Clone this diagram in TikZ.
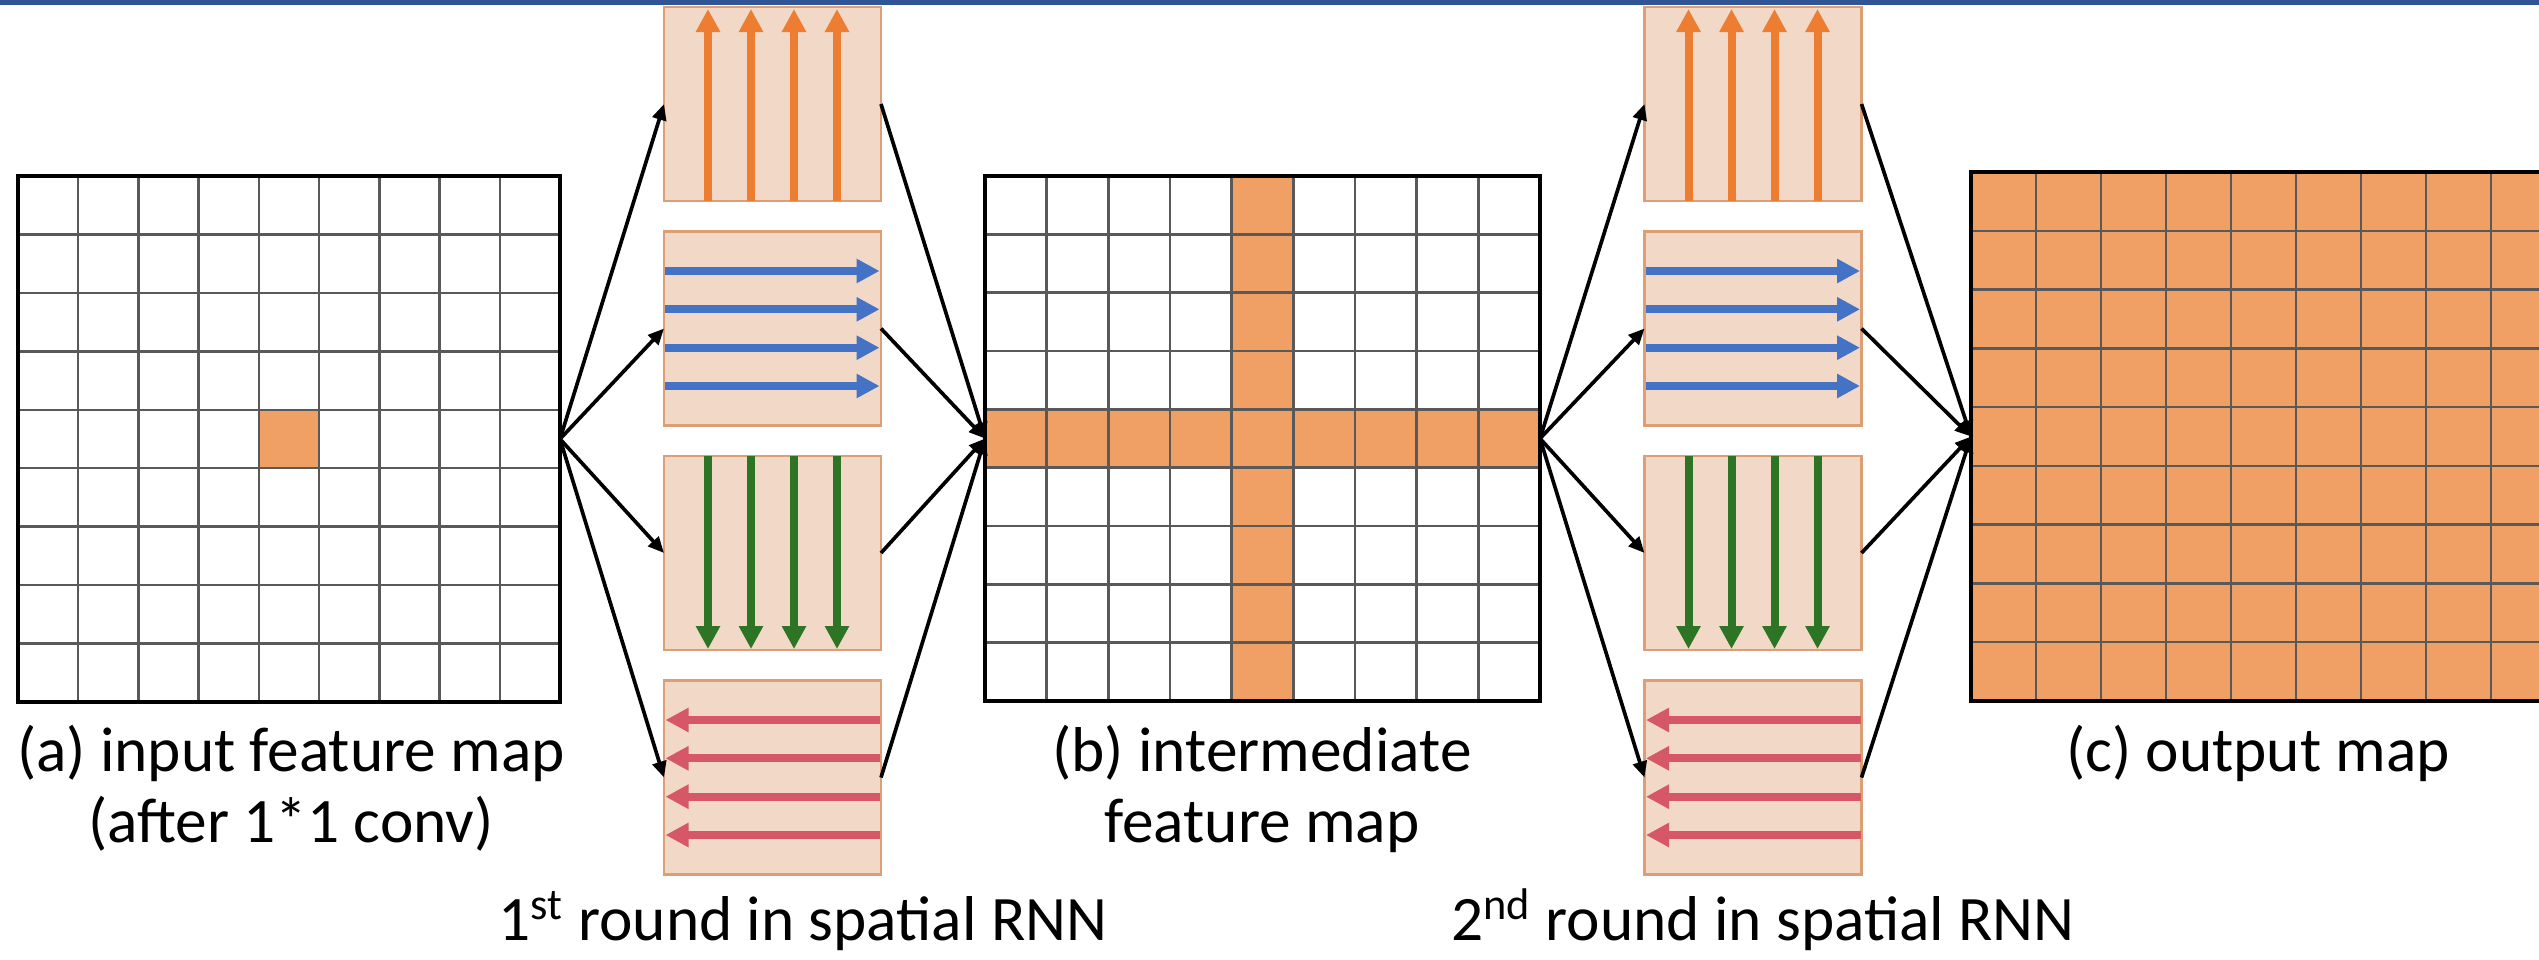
\documentclass[tikz,border=0pt]{standalone}
\usepackage{fontspec}
\setmainfont{Carlito}
\usetikzlibrary{arrows.meta,calc}

\definecolor{barblue}{HTML}{2F5597}
\definecolor{cellorange}{HTML}{F0A064}
\definecolor{gridgray}{HTML}{595959}
\definecolor{boxfill}{HTML}{F1D8C7}
\definecolor{boxedge}{HTML}{DE9E74}
\definecolor{upcol}{HTML}{ED7D31}
\definecolor{rightcol}{HTML}{4472C4}
\definecolor{downcol}{HTML}{2D7524}
\definecolor{leftcol}{HTML}{D65766}

\begin{document}
\begin{tikzpicture}[x=0.3pt,y=-0.3pt,
  mapbox/.style={rectangle, inner sep=0pt, outer sep=0pt},
  border/.style={draw=black, line width=0.95pt},
  gridline/.style={draw=gridgray, line width=0.75pt},
  dirbox/.style={rectangle, inner sep=0pt, outer sep=0pt,
    minimum width=65.1pt, minimum height=58.2pt,
    fill=boxfill, draw=boxedge, line width=0.7pt},
  flow/.style={line width=2.4pt, -{Triangle[length=6.9pt,width=6.9pt]}},
  conn/.style={line width=1.1pt, -{Triangle[length=4.8pt,width=4.2pt]}},
  maptext/.style={font=\fontsize{19}{23}\selectfont, anchor=base, inner sep=0pt}
]
\useasboundingbox (0,0) rectangle (2539,959);

% title bar
\fill[barblue] (0,0) rectangle (2539,5);

% ---- feature maps ----
\node[mapbox, minimum width=162.6pt, minimum height=157.8pt] (ga) at (289,439) {};
\node[mapbox, minimum width=166.5pt, minimum height=157.5pt] (gb) at (1262.5,438.5) {};
\node[mapbox, minimum width=175.5pt, minimum height=158.7pt, fill=cellorange] (gc) at (2263.5,436.5) {};

% (a) one active cell
\begin{scope}[shift={(ga.north west)}, x=18.0667pt, y=-17.5333pt]
  \fill[cellorange] (4,4) rectangle (5,5);
  \foreach \i in {1,...,8} {
    \draw[gridline] (\i,0) -- (\i,9);
    \draw[gridline] (0,\i) -- (9,\i);
  }
\end{scope}
\draw[border] (ga.north west) rectangle (ga.south east);

% (b) one row and one column
\begin{scope}[shift={(gb.north west)}, x=18.5pt, y=-17.5pt]
  \fill[cellorange] (4,0) rectangle (5,9);
  \fill[cellorange] (0,4) rectangle (9,5);
  \foreach \i in {1,...,8} {
    \draw[gridline] (\i,0) -- (\i,9);
    \draw[gridline] (0,\i) -- (9,\i);
  }
\end{scope}
\draw[border] (gb.north west) rectangle (gb.south east);

% (c) every cell
\begin{scope}[shift={(gc.north west)}, x=19.5pt, y=-17.6333pt]
  \foreach \i in {1,...,8} {
    \draw[gridline] (\i,0) -- (\i,9);
    \draw[gridline] (0,\i) -- (9,\i);
  }
\end{scope}
\draw[border] (gc.north west) rectangle (gc.south east);

% ---- directional sweeps ----
\foreach \n/\cx in {b/772.5, c/1753} {
  \node[dirbox] (\n1) at (\cx,104) {};
  \node[dirbox] (\n2) at (\cx,328.5) {};
  \node[dirbox] (\n3) at (\cx,553) {};
  \node[dirbox] (\n4) at (\cx,777.5) {};
  \foreach \d in {-64.5,-21.5,21.5,64.5} {
    \draw[flow, upcol] ($(\n1.south)+(\d,0)$) -- ($(\n1.north)+(\d,2)$);
    \draw[flow, downcol] ($(\n3.north)+(\d,0)$) -- ($(\n3.south)+(\d,-1)$);
  }
  \foreach \d in {-57.5,-19.2,19.2,57.5} {
    \draw[flow, rightcol] ($(\n2.west)+(1,\d)$) -- ($(\n2.east)+(-1.5,\d)$);
    \draw[flow, leftcol] ($(\n4.east)+(-1,\d)$) -- ($(\n4.west)+(1.5,\d)$);
  }
}

% ---- connectors ----
\foreach \k in {1,...,4} {
  \draw[conn] (ga.east) -- (b\k.west);
  \draw[conn] (b\k.east) -- (gb.west);
  \draw[conn] (gb.east) -- (c\k.west);
  \draw[conn] (c\k.east) -- (gc.west);
}

% ---- captions ----
\node[maptext] (la1) at (291,771.5) {(a) input feature map};
\node[maptext] (la2) at (291,842) {(after 1*1 conv)};
\node[maptext] (lb1) at (1262,771.5) {(b) intermediate};
\node[maptext] (lb2) at (1262,842) {feature map};
\node[maptext] (lc) at (2258,771.5) {(c) output map};
\node[maptext] (r1) at (803,940) {1\textsuperscript{st} round in spatial RNN};
\node[maptext] (r2) at (1763,940) {2\textsuperscript{nd} round in spatial RNN};
\end{tikzpicture}
\end{document}
